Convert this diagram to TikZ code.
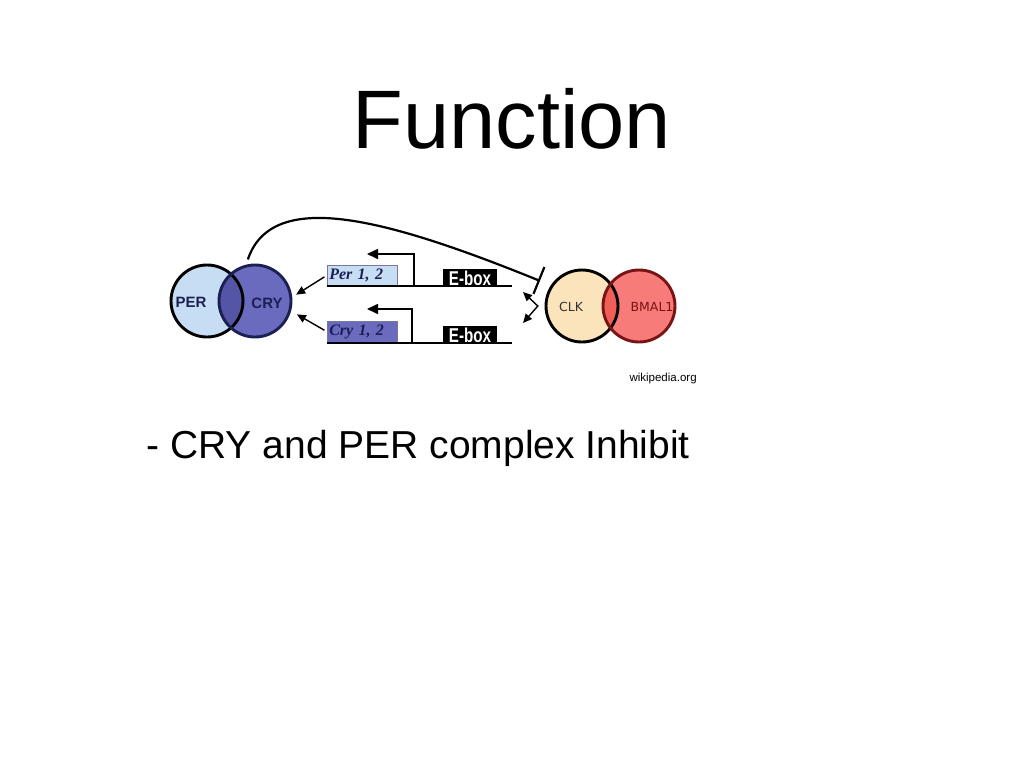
\documentclass[tikz,border=0pt]{standalone}
\usepackage{fontspec}
\setmainfont{Liberation Sans}
\newfontfamily\geneFont{Liberation Serif}
\newfontfamily\eboxFont[FakeStretch=0.76]{Liberation Sans}
\newfontfamily\protFont{DejaVu Sans}
\usetikzlibrary{positioning,arrows.meta,calc}
\definecolor{ccPerL}{HTML}{C6DDF4}
\definecolor{ccCry}{HTML}{6A6ABF}
\definecolor{ccCryD}{HTML}{5555A8}
\definecolor{ccNavy}{HTML}{1C1F52}
\definecolor{ccClkL}{HTML}{FBE4BC}
\definecolor{ccBmal}{HTML}{F77B78}
\definecolor{ccBmalD}{HTML}{EF5F57}
\definecolor{ccRedD}{HTML}{781414}
\definecolor{ccGray}{HTML}{333333}
\tikzset{
  cc-circ/.style={circle, minimum size=72pt, inner sep=0pt},
  cc-ring/.style={line width=2.9pt},
  cc-gene/.style={
    draw=ccNavy!60, line width=0.5pt, anchor=south west,
    text width=66pt, inner sep=2pt, align=left,
    font=\geneFont\bfseries\itshape\fontsize{16}{16}\selectfont, text=ccNavy
  },
  cc-ebox/.style={
    fill=black, text=white, minimum width=54pt, minimum height=18pt,
    inner sep=0pt, font=\eboxFont\bfseries\fontsize{20}{20}\selectfont
  },
  cc-dna/.style={line width=1.6pt},
  cc-tx/.style={-{Triangle[length=11pt,width=10pt]}, line width=1.6pt},
  cc-prod/.style={-{Triangle[length=9pt,width=8pt]}, line width=1.4pt},
  cc-inhib/.style={-{Bar[width=29pt,line width=2.2pt]}, line width=2.2pt},
  cc-act/.style={{Triangle[length=9pt,width=8pt]}-{Triangle[length=9pt,width=8pt]},
    line width=1.4pt}
}
\begin{document}
\begin{tikzpicture}[
  x=1pt, y=-1pt,
  prot/.style={font=\protFont\fontsize{12.5}{12.5}\selectfont},
  cryp/.style={font=\bfseries\fontsize{15}{15}\selectfont, text=ccNavy}
]
\useasboundingbox (0,0) rectangle (1024,768);

% Title
\node[anchor=base, font=\fontsize{83}{83}\selectfont] (title) at (512,148) {Function};

% PER / CRY complex
\node[cc-circ, fill=ccPerL] (per) at (207,301) {};
\node[cc-circ, fill=ccCry] (cry) at (255,301) {};
\begin{scope}
  \clip (per.center) circle (36pt);
  \fill[ccCryD] (cry.center) circle (36pt);
\end{scope}
\draw[cc-ring, draw=black] (per.center) circle (36pt);
\draw[cc-ring, draw=ccNavy] (cry.center) circle (36pt);
\node[cryp] (perT) at (191,302) {PER};
\node[cryp] (cryT) at (267,303) {CRY};

% CLK / BMAL1 complex
\node[cc-circ, fill=ccClkL] (clk) at (582,306) {};
\node[cc-circ, fill=ccBmal] (bmal) at (639,306) {};
\begin{scope}
  \clip (clk.center) circle (36pt);
  \fill[ccBmalD] (bmal.center) circle (36pt);
\end{scope}
\draw[cc-ring, draw=black] (clk.center) circle (36pt);
\draw[cc-ring, draw=ccRedD] (bmal.center) circle (36pt);
\node[prot, text=ccGray] (clkT) at (571,307) {CLK};
\node[prot, text=ccRedD] (bmalT) at (652,307) {BMAL1};

% Genes
\node[cc-gene, fill=ccPerL, minimum height=21pt] (perbox) at (327,286) {Per 1, 2};
\node[cc-gene, fill=ccCry, minimum height=22pt] (crybox) at (327,343) {Cry 1, 2};
\node[cc-ebox] (ebox1) at (470,278) {E-box};
\node[cc-ebox] (ebox2) at (470,335) {E-box};

\coordinate (perEnd) at (512,286);
\coordinate (cryEnd) at (512,343);
\coordinate (perTSS) at (414,286);
\coordinate (cryTSS) at (412,343);
\coordinate (perTx) at (367,254);
\coordinate (cryTx) at (367,309);
\coordinate (actUp) at (523,292);
\coordinate (actLow) at (523,323);

\draw[cc-dna] (perbox.south west) -- (perEnd);
\draw[cc-dna] (crybox.south west) -- (cryEnd);
\draw[cc-tx] (perTSS) |- (perTx);
\draw[cc-tx] (cryTSS) |- (cryTx);

% Products and feedback
\draw[cc-prod, shorten <=3pt, shorten >=6pt] (perbox.west) -- (cry.5);
\draw[cc-prod, shorten <=3pt, shorten >=8pt] (crybox.west) -- (cry.-15);
\draw[cc-inhib, shorten <=7pt, shorten >=13pt] (cry.105)
  .. controls (272,188) and (385,218) .. (clk.146);
\draw[cc-act] (actUp) -- ([xshift=-8pt]clk.west) -- (actLow);

% Credit and caption
\node[anchor=base west, font=\fontsize{11.5}{11.5}\selectfont] (credit) at (626,381) {wikipedia.org};
\node[anchor=base west, font=\fontsize{39}{39}\selectfont] (caption) at (143,458)
  {- CRY and PER complex Inhibit};
\end{tikzpicture}
\end{document}
